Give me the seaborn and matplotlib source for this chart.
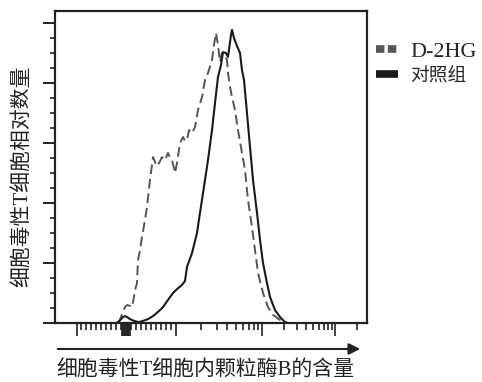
import numpy as np
import pandas as pd
import seaborn as sns
import matplotlib
matplotlib.use("Agg")
import matplotlib.pyplot as plt
from matplotlib.lines import Line2D

# ---- data (x in display channels, y in relative cell count) ----
d2hg_x = [63, 65, 67, 70, 72, 75, 77, 79, 80, 82, 83, 85, 87, 90, 92, 95, 97, 98, 100, 102,
          104, 107, 110, 113, 115, 117, 119, 120, 122, 125, 128, 130, 132, 134, 137, 140, 143,
          147, 150, 153, 157, 159, 161, 163, 165, 167, 169, 172, 173, 175, 177, 180, 183, 187,
          190, 193, 197, 200, 203, 208, 213, 218, 225, 232]
d2hg_y = [0, 1, 3, 5.3, 6, 5.7, 5.3, 8.7, 11, 13.3, 21, 24.3, 28.7, 34.3, 38.7, 47.7, 52.7,
          55.3, 53.7, 52.3, 53.3, 55.3, 54.3, 56.7, 55, 54.3, 51.7, 50, 53.3, 60, 62, 60.7, 61,
          64.3, 63.3, 65.3, 71, 75.3, 81, 83.3, 87.7, 92.7, 96.7, 92.7, 87, 90, 89.3, 87.7, 83.3,
          78.7, 75.3, 71, 64.3, 56.7, 51, 41, 32, 24.3, 16.7, 10, 5.3, 2.7, 1, 0]

ctrl_x = [61, 63, 66, 68, 70, 72, 75, 79, 84, 88, 93, 98, 103, 108, 113, 118, 122, 127, 130,
          132, 137, 142, 145, 150, 153, 157, 160, 163, 166, 168, 171, 173, 176, 177, 179, 182,
          185, 187, 189, 192, 195, 198, 202, 205, 208, 212, 215, 220, 225, 230, 233]
ctrl_y = [0, 0.3, 1.3, 2, 2.3, 2, 1.3, 0.7, 0.3, 0.7, 1.3, 2.3, 3.7, 5.3, 7.7, 10, 11.3, 12.7,
          14, 18.7, 23.3, 30, 36.7, 47.7, 54.3, 64.3, 73.3, 82, 86, 90.3, 90, 88.7, 96, 97.7,
          95, 92.3, 90, 84.3, 81, 70, 58.7, 47.7, 36.7, 27.7, 20, 13.3, 8.7, 4.3, 2, 0.3, 0]

series_names = ["D-2HG", "对照组"]
xlabel = "细胞毒性T细胞内颗粒酶B的含量"
ylabel = "细胞毒性T细胞相对数量"

# ---- style ----
sns.set_style("ticks")
plt.rcParams["font.family"] = ["Liberation Serif", "Noto Sans CJK SC", "DejaVu Sans"]

fig = plt.figure(figsize=(4.82, 3.82), dpi=100)
ax = fig.add_axes([55 / 482, 1 - 323 / 382, 312 / 482, 312 / 382])

df_d = pd.DataFrame({"x": d2hg_x, "y": d2hg_y})
df_c = pd.DataFrame({"x": ctrl_x, "y": ctrl_y})
sns.lineplot(data=df_d, x="x", y="y", ax=ax, color="#555555", lw=1.4,
             sort=False, estimator=None)
ax.lines[-1].set_dashes((5, 2.5))
sns.lineplot(data=df_c, x="x", y="y", ax=ax, color="#1a1a1a", lw=1.5,
             sort=False, estimator=None)

ax.set_xlim(0, 312)
ax.set_ylim(0, 104)
ax.set_xlabel("")
ax.set_ylabel("")

# y ticks
ax.set_yticks(np.arange(0, 101, 20))
ax.set_yticks(np.arange(0, 104, 5), minor=True)
ax.tick_params(axis="y", which="major", direction="out", length=8.5, width=1.4,
               labelleft=False, color="#222222")
ax.tick_params(axis="y", which="minor", direction="out", length=3.6, width=1.2,
               color="#222222")


# x ticks: biexponential-like display scale
def chan(v):
    if abs(v) <= 1000:
        return 71 + v * 49.5 / 1000
    if v > 0:
        if v <= 1e4:
            return 120 + np.log10(v / 1e3) * 87
        return 207 + np.log10(v / 1e4) * 73
    return 20


major_v = [-1000, 0, 1000, 1e4, 1e5]
long_v = [k * s for s in (-1, 1) for k in range(20, 100, 20)]
minor_v = [k * s for s in (-1, 1) for k in range(100, 1000, 100)]
minor_v += [k * 1e3 for k in range(2, 10)] + [k * 1e4 for k in range(2, 10)] + [2e5]
ax.set_xticks([chan(v) for v in major_v + long_v])
ax.set_xticks([chan(v) for v in minor_v], minor=True)
ax.tick_params(axis="x", which="major", direction="out", length=9, width=1.2,
               labelbottom=False, color="#222222")
ax.tick_params(axis="x", which="minor", direction="out", length=5, width=1.2,
               color="#222222")

for s in ax.spines.values():
    s.set_linewidth(1.6)
    s.set_color("#222222")

# axis arrow
fig.add_artist(matplotlib.patches.FancyArrowPatch(
    (55 / 482, 1 - 349 / 382), (363 / 482, 1 - 349 / 382), transform=fig.transFigure,
    arrowstyle="-|>", mutation_scale=17, lw=1.5, color="#222222"))

fig.text(205 / 482, 1 - 370 / 382, xlabel, ha="center", va="center", fontsize=15,
         color="#222222")
fig.text(22 / 482, 1 - 176 / 382, ylabel, ha="center", va="center", rotation=90,
         fontsize=15, color="#222222")

# legend
handles = [Line2D([], [], color="#555555", lw=5.5, dashes=(1.1, 0.45),
                  dash_capstyle="butt"),
           Line2D([], [], color="#1a1a1a", lw=5.5, solid_capstyle="butt")]
leg = fig.legend(handles, series_names, loc="upper left",
                 bbox_to_anchor=(376 / 482, 1 - 41 / 382), frameon=False,
                 handlelength=1.0, handletextpad=0.55, labelspacing=0.2,
                 fontsize=16, borderpad=0, borderaxespad=0)
leg.get_texts()[1].set_fontsize(13.5)

fig.savefig("out.png", dpi=100)
